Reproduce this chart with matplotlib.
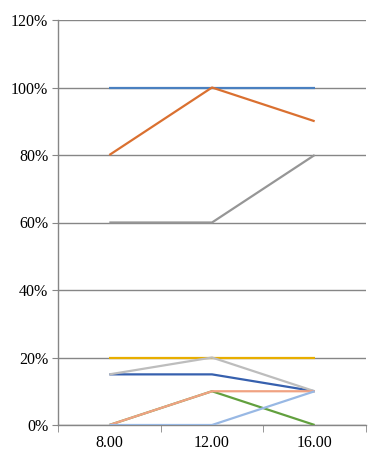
import matplotlib
matplotlib.use("Agg")
import matplotlib.pyplot as plt
from matplotlib.ticker import FuncFormatter

plt.rcParams["font.family"] = ["Liberation Serif", "DejaVu Serif"]

times = ["8.00", "12.00", "16.00"]

# series values in %
s_blue = [100, 100, 100]
s_orange = [80, 100, 90]
s_gray = [60, 60, 80]
s_gold = [20, 20, 20]
s_darkblue = [15, 15, 10]
s_green = [0, 10, 0]
s_lightgray = [15, 20, 10]
s_salmon = [0, 10, 10]
s_lightblue = [0, 0, 10]

series = [
    (s_blue, "#4A80C0"),
    (s_orange, "#DA7030"),
    (s_gray, "#969696"),
    (s_gold, "#E8AE00"),
    (s_darkblue, "#3660AE"),
    (s_green, "#62A03E"),
    (s_lightgray, "#BDBDBD"),
    (s_salmon, "#F0A282"),
    (s_lightblue, "#98B8E4"),
]

fig = plt.figure(figsize=(3.86, 4.71), dpi=100)
ax = fig.add_axes([58 / 386, 46 / 471, 308 / 386, 405 / 471])

x = list(range(len(times)))
for vals, col in series:
    ax.plot(x, vals, color=col, lw=1.6, solid_capstyle="butt", zorder=3)

ax.set_xlim(-0.5, len(times) - 0.5)
ax.set_ylim(0, 120)
ax.set_yticks(range(0, 121, 20))
ax.yaxis.set_major_formatter(FuncFormatter(lambda v, p: f"{v:.0f}%"))
ax.set_xticks(x)
ax.set_xticklabels(times)
ax.set_xticks([-0.5, 0.5, 1.5, 2.5], minor=True)
ax.tick_params(axis="x", which="major", length=0, pad=7, labelsize=11.5)
ax.tick_params(axis="x", which="minor", length=5, color="#868686")
ax.tick_params(axis="y", length=4, color="#868686", labelsize=11.5, pad=3)
ax.grid(axis="y", color="#868686", lw=1, zorder=1)

for side in ["top", "right"]:
    ax.spines[side].set_visible(False)
for side in ["left", "bottom"]:
    ax.spines[side].set_color("#868686")
    ax.spines[side].set_linewidth(1)

fig.savefig("out.png", dpi=100)
